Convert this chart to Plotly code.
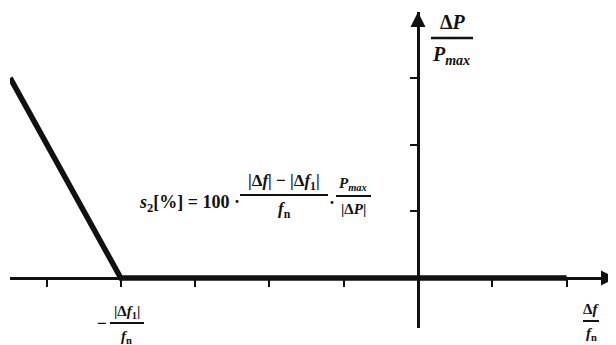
import plotly.graph_objects as go

# ─── Data ─────────────────────────────────────────────────────────────────────
curve_x = [-5.49, -4.0, 2.0]      # Δf/fn (tick units)
curve_y = [3.0, 0.0, 0.0]         # ΔP/Pmax (tick units)
x_ticks = [-5, -4, -3, -2, -1, 1, 2]
y_ticks = [1, 2, 3]

# ─── Geometry ─────────────────────────────────────────────────────────────────
# page has an 8px body margin, so figure pixels = page pixels - 8
OFF = 8
W, H = 616 - OFF, 345 - OFF
ML, MR, MT, MB = 10 - OFF, 0, 12 - OFF, 17
X0_PX, Y0_PX = 418 - OFF, 278 - OFF    # origin
SX, SY = 74.3, 66.7                    # px per unit
PW, PH = W - ML - MR, H - MT - MB

x_range = [(ML - X0_PX) / SX, (W - MR - X0_PX) / SX]
y_range = [(Y0_PX - (H - MB)) / SY, (Y0_PX - MT) / SY]


def PX(px):
    # page pixel -> paper fraction
    return (px - OFF - ML) / PW


def PY(py):
    return 1 - (py - OFF - MT) / PH


FONT = "Liberation Serif"
INK = "#111111"

fig = go.Figure()
fig.add_trace(go.Scatter(
    x=curve_x, y=curve_y, mode="lines",
    line=dict(color=INK, width=5.5),
    hoverinfo="skip", showlegend=False,
))

# axes crossing at the origin
x_pos = (0 - x_range[0]) / (x_range[1] - x_range[0])
y_pos = (0 - y_range[0]) / (y_range[1] - y_range[0])

fig.update_layout(
    width=W, height=H,
    margin=dict(l=ML, r=MR, t=MT, b=MB),
    paper_bgcolor="white", plot_bgcolor="white",
    xaxis=dict(
        range=x_range, anchor="free", position=y_pos,
        showline=True, linecolor=INK, linewidth=2.5,
        ticks="outside", tickvals=x_ticks, ticklen=7, tickwidth=2, tickcolor=INK,
        showticklabels=False, showgrid=False, zeroline=False, fixedrange=True,
    ),
    yaxis=dict(
        range=y_range, anchor="free", position=x_pos,
        showline=True, linecolor=INK, linewidth=2.5,
        ticks="outside", tickvals=y_ticks, ticklen=7, tickwidth=2, tickcolor=INK,
        showticklabels=False, showgrid=False, zeroline=False, fixedrange=True,
    ),
)

# arrowheads
fig.add_annotation(x=x_range[1], y=0, ax=-16, ay=0, text="", showarrow=True,
                   arrowhead=2, arrowsize=1.2, arrowwidth=2.5, arrowcolor=INK)
fig.add_annotation(x=0, y=y_range[1], ax=0, ay=16, text="", showarrow=True,
                   arrowhead=2, arrowsize=1.2, arrowwidth=2.5, arrowcolor=INK)


# ─── Text helpers ─────────────────────────────────────────────────────────────
def label(px, py, text, size=15, xanchor="center"):
    fig.add_annotation(x=PX(px), y=PY(py), xref="paper", yref="paper",
                       text=text, showarrow=False,
                       xanchor=xanchor, yanchor="middle",
                       font=dict(family=FONT, size=size, color=INK, weight="bold"))


def bar(px0, px1, py, width=2):
    fig.add_shape(type="line", xref="paper", yref="paper",
                  x0=PX(px0), x1=PX(px1), y0=PY(py), y1=PY(py),
                  line=dict(color=INK, width=width))


# ΔP / Pmax
label(453, 22, "Δ<i>P</i>", size=20)
bar(431, 473, 38, 2.5)
label(451, 55, "<i>P</i><sub><i>max</i></sub>", size=20)

# −|Δf1| / fn
label(102, 323, "−", size=17)
label(127, 312, "|Δ<i>f</i><sub>1</sub>|", size=15)
bar(110, 144, 323)
label(126, 337, "<i>f</i><sub>n</sub>", size=15)

# Δf / fn
label(591, 309, "Δ<i>f</i>", size=15)
bar(583, 599, 321)
label(591, 334, "<i>f</i><sub>n</sub>", size=15)

# formula
label(137, 203, "<i>s</i><sub>2</sub>[%] = 100 ·", size=18, xanchor="left")
label(284, 182, "|Δ<i>f</i>| − |Δ<i>f</i><sub>1</sub>|", size=17)
bar(240, 328, 195)
label(284, 210, "<i>f</i><sub>n</sub>", size=17)
label(332, 203, "·", size=18)
label(353, 184, "<i>P</i><sub><i>max</i></sub>", size=15)
bar(336, 371, 196)
label(353, 209, "|Δ<i>P</i>|", size=15)

fig.write_html("out.html")
